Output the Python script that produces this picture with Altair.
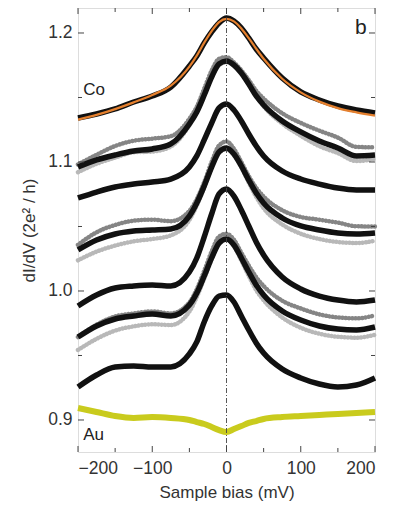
import altair as alt
import pandas as pd

# Sample bias grid (mV)
bias = [-200, -175, -150, -125, -100, -75, -50, -40, -30, -20, -10, 0, 10, 20, 30, 40, 50, 75, 100, 125, 150, 175, 200]

# Spectra (dI/dV in units of 2e^2/h), top to bottom
co = [1.1341, 1.1372, 1.1411, 1.1465, 1.1512, 1.1581, 1.1744, 1.1822, 1.1922, 1.2008, 1.2078, 1.2116, 1.2093, 1.2039, 1.1961, 1.1876, 1.1806, 1.1651, 1.1543, 1.1481, 1.1434, 1.1403, 1.1380]
co_fit = [1.1328, 1.1365, 1.1410, 1.1462, 1.1520, 1.1592, 1.1740, 1.1825, 1.1925, 1.2015, 1.2085, 1.2110, 1.2090, 1.2035, 1.1960, 1.1878, 1.1800, 1.1645, 1.1540, 1.1468, 1.1418, 1.1385, 1.1360]
c2 = [1.0961, 1.1016, 1.1054, 1.1085, 1.1101, 1.1140, 1.1295, 1.1388, 1.1519, 1.1659, 1.1760, 1.1783, 1.1752, 1.1690, 1.1605, 1.1512, 1.1442, 1.1318, 1.1233, 1.1163, 1.1109, 1.1047, 1.1054]
c3 = [1.0721, 1.0767, 1.0806, 1.0829, 1.0845, 1.0868, 1.0961, 1.1047, 1.1171, 1.1302, 1.1419, 1.1450, 1.1403, 1.1318, 1.1217, 1.1124, 1.1047, 1.0930, 1.0868, 1.0829, 1.0798, 1.0783, 1.0783]
c4 = [1.0318, 1.0395, 1.0442, 1.0465, 1.0473, 1.0481, 1.0581, 1.0682, 1.0814, 1.0961, 1.1078, 1.1109, 1.1062, 1.0969, 1.0860, 1.0760, 1.0682, 1.0566, 1.0504, 1.0473, 1.0450, 1.0442, 1.0450]
c5 = [0.9884, 0.9969, 1.0023, 1.0039, 1.0047, 1.0039, 1.0147, 1.0256, 1.0419, 1.0597, 1.0752, 1.0791, 1.0736, 1.0628, 1.0504, 1.0380, 1.0279, 1.0109, 1.0016, 0.9961, 0.9930, 0.9915, 0.9930]
c6 = [0.9643, 0.9729, 0.9783, 0.9806, 0.9822, 0.9806, 0.9891, 0.9984, 1.0116, 1.0256, 1.0372, 1.0403, 1.0357, 1.0256, 1.0147, 1.0047, 0.9969, 0.9845, 0.9775, 0.9729, 0.9705, 0.9698, 0.9721]
c7 = [0.9256, 0.9349, 0.9411, 0.9419, 0.9411, 0.9411, 0.9512, 0.9605, 0.9760, 0.9884, 0.9961, 0.9969, 0.9915, 0.9806, 0.9698, 0.9597, 0.9519, 0.9395, 0.9326, 0.9279, 0.9256, 0.9271, 0.9326]
au = [0.9093, 0.9062, 0.9031, 0.9016, 0.9023, 0.9016, 0.9000, 0.8984, 0.8969, 0.8946, 0.8922, 0.8907, 0.8930, 0.8953, 0.8977, 0.8992, 0.9008, 0.9023, 0.9031, 0.9039, 0.9047, 0.9054, 0.9062]

# Repeated measurements (grey dots)
c2_dark = [1.0981, 1.1056, 1.1124, 1.1165, 1.1181, 1.1200, 1.1335, 1.1428, 1.1569, 1.1709, 1.1800, 1.1813, 1.1772, 1.1710, 1.1635, 1.1552, 1.1492, 1.1378, 1.1303, 1.1243, 1.1189, 1.1117, 1.1114]
c2_light = [1.0921, 1.0986, 1.1034, 1.1075, 1.1081, 1.1120, 1.1285, 1.1388, 1.1529, 1.1659, 1.1750, 1.1773, 1.1752, 1.1700, 1.1615, 1.1512, 1.1432, 1.1298, 1.1203, 1.1123, 1.1069, 1.1007, 1.1024]
c4_dark = [1.0358, 1.0455, 1.0512, 1.0545, 1.0553, 1.0541, 1.0621, 1.0712, 1.0844, 1.1001, 1.1128, 1.1159, 1.1102, 1.0999, 1.0890, 1.0800, 1.0732, 1.0626, 1.0574, 1.0553, 1.0530, 1.0502, 1.0500]
c4_light = [1.0238, 1.0305, 1.0352, 1.0385, 1.0403, 1.0431, 1.0551, 1.0662, 1.0804, 1.0961, 1.1078, 1.1099, 1.1052, 1.0959, 1.0840, 1.0730, 1.0642, 1.0516, 1.0444, 1.0403, 1.0380, 1.0372, 1.0390]
c6_dark = [0.9643, 0.9739, 0.9803, 0.9826, 0.9842, 0.9826, 0.9911, 1.0014, 1.0156, 1.0306, 1.0422, 1.0443, 1.0397, 1.0296, 1.0197, 1.0107, 1.0039, 0.9925, 0.9865, 0.9819, 0.9795, 0.9788, 0.9811]
c6_light = [0.9543, 0.9629, 0.9693, 0.9726, 0.9742, 0.9736, 0.9841, 0.9954, 1.0096, 1.0246, 1.0372, 1.0403, 1.0347, 1.0236, 1.0117, 1.0007, 0.9929, 0.9795, 0.9715, 0.9669, 0.9645, 0.9638, 0.9661]

x_labels = [-200, -100, 0, 100, 200]
y_labels = [0.9, 1.0, 1.1, 1.2]
x_major = [-200, -100, 0, 100, 200]
x_minor = [-150, -50, 50, 150]
y_major = [0.9, 1.0, 1.1, 1.2]
y_minor = [0.95, 1.05, 1.15]

W, H = 297, 444
FONT = "Liberation Sans"


def long(series):
    rows = []
    for name, vals in series.items():
        for b, v in zip(bias, vals):
            rows.append({"bias": b, "g": v, "s": name})
    return pd.DataFrame(rows)


xs = alt.Scale(domain=[-200, 200], nice=False, zero=False)
ys = alt.Scale(domain=[0.87519, 1.21938], nice=False, zero=False)

xaxis = alt.Axis(values=x_labels, ticks=False, domain=False, grid=False,
                 labelFontSize=17.5, labelPadding=7, labelColor="#333333",
                 titleFontSize=17, titleFontWeight="normal", titlePadding=8,
                 titleColor="#333333", labelFont=FONT, titleFont=FONT)
yaxis = alt.Axis(values=y_labels, format=".1f", ticks=False, domain=False, grid=False,
                 labelFontSize=17.5, labelPadding=6, labelColor="#333333",
                 titleFontSize=17, titleFontWeight="normal", titlePadding=9,
                 titleColor="#333333", labelFont=FONT, titleFont=FONT)

xenc = alt.X("bias:Q", scale=xs, title="Sample bias (mV)", axis=xaxis)
yenc = alt.Y("g:Q", scale=ys, title="dI/dV (2e² / h)", axis=yaxis)

black_df = long({"co": co, "c2": c2, "c3": c3, "c4": c4, "c5": c5, "c6": c6, "c7": c7})
light_df = long({"c2l": c2_light, "c4l": c4_light, "c6l": c6_light})
dark_df = long({"c2d": c2_dark, "c4d": c4_dark, "c6d": c6_dark})
fit_df = long({"fit": co_fit})
au_df = long({"au": au})

light = alt.Chart(light_df).mark_line(
    color="#b8b8b8", strokeWidth=4.5, strokeDash=[0.1, 3.2], strokeCap="round", interpolate="monotone"
).encode(x=xenc, y=yenc, detail="s:N")
dark = alt.Chart(dark_df).mark_line(
    color="#858585", strokeWidth=4.5, strokeDash=[0.1, 3.2], strokeCap="round", interpolate="monotone"
).encode(x=xenc, y=yenc, detail="s:N")
black = alt.Chart(black_df).mark_line(
    color="#111111", strokeWidth=5.5, interpolate="monotone"
).encode(x=xenc, y=yenc, detail="s:N")

fit = alt.Chart(fit_df).mark_line(color="#e5802e", strokeWidth=2.2, interpolate="monotone").encode(x=xenc, y=yenc)
gold = alt.Chart(au_df).mark_line(color="#c9cb1d", strokeWidth=6, interpolate="monotone").encode(x=xenc, y=yenc)

zero_line = alt.Chart(pd.DataFrame({"bias": [0]})).mark_rule(
    color="#444444", strokeWidth=0.9, strokeDash=[5, 2, 1, 2]
).encode(x=xenc)

labels_df = pd.DataFrame({"bias": [-193, -193], "g": [1.1558, 0.8884], "t": ["Co", "Au"]})
labels = alt.Chart(labels_df).mark_text(align="left", baseline="middle", fontSize=17, font=FONT, color="#222222").encode(
    x=xenc, y=yenc, text="t:N")
panel = alt.Chart(pd.DataFrame({"bias": [181], "g": [1.2039], "t": ["b"]})).mark_text(
    align="center", baseline="middle", fontSize=21, font=FONT, color="#222222").encode(x=xenc, y=yenc, text="t:N")


def xticks(vals, length):
    d = pd.DataFrame({"bias": vals})
    bot = alt.Chart(d).mark_rule(color="#444444", strokeWidth=1).encode(
        x=xenc, y=alt.value(H), y2=alt.value(H - length))
    top = alt.Chart(d).mark_rule(color="#444444", strokeWidth=1).encode(
        x=xenc, y=alt.value(0), y2=alt.value(length))
    return [bot, top]


def yticks(vals, length):
    d = pd.DataFrame({"g": vals})
    left = alt.Chart(d).mark_rule(color="#444444", strokeWidth=1).encode(
        y=yenc, x=alt.value(0), x2=alt.value(length))
    right = alt.Chart(d).mark_rule(color="#444444", strokeWidth=1).encode(
        y=yenc, x=alt.value(W), x2=alt.value(W - length))
    return [left, right]


layers = [light, dark, black, fit, gold, zero_line, labels, panel]
layers += xticks(x_major, 6) + xticks(x_minor, 4) + yticks(y_major, 6) + yticks(y_minor, 4)

chart = alt.layer(*layers).properties(
    width=W, height=H,
    autosize=alt.AutoSizeParams(type="none"),
    padding={"left": 70, "top": 0, "right": 10, "bottom": 54},
).configure_view(stroke="#444444", strokeWidth=1).configure(background="white")

chart.save("out.html", embed_options={"renderer": "svg", "actions": False})
